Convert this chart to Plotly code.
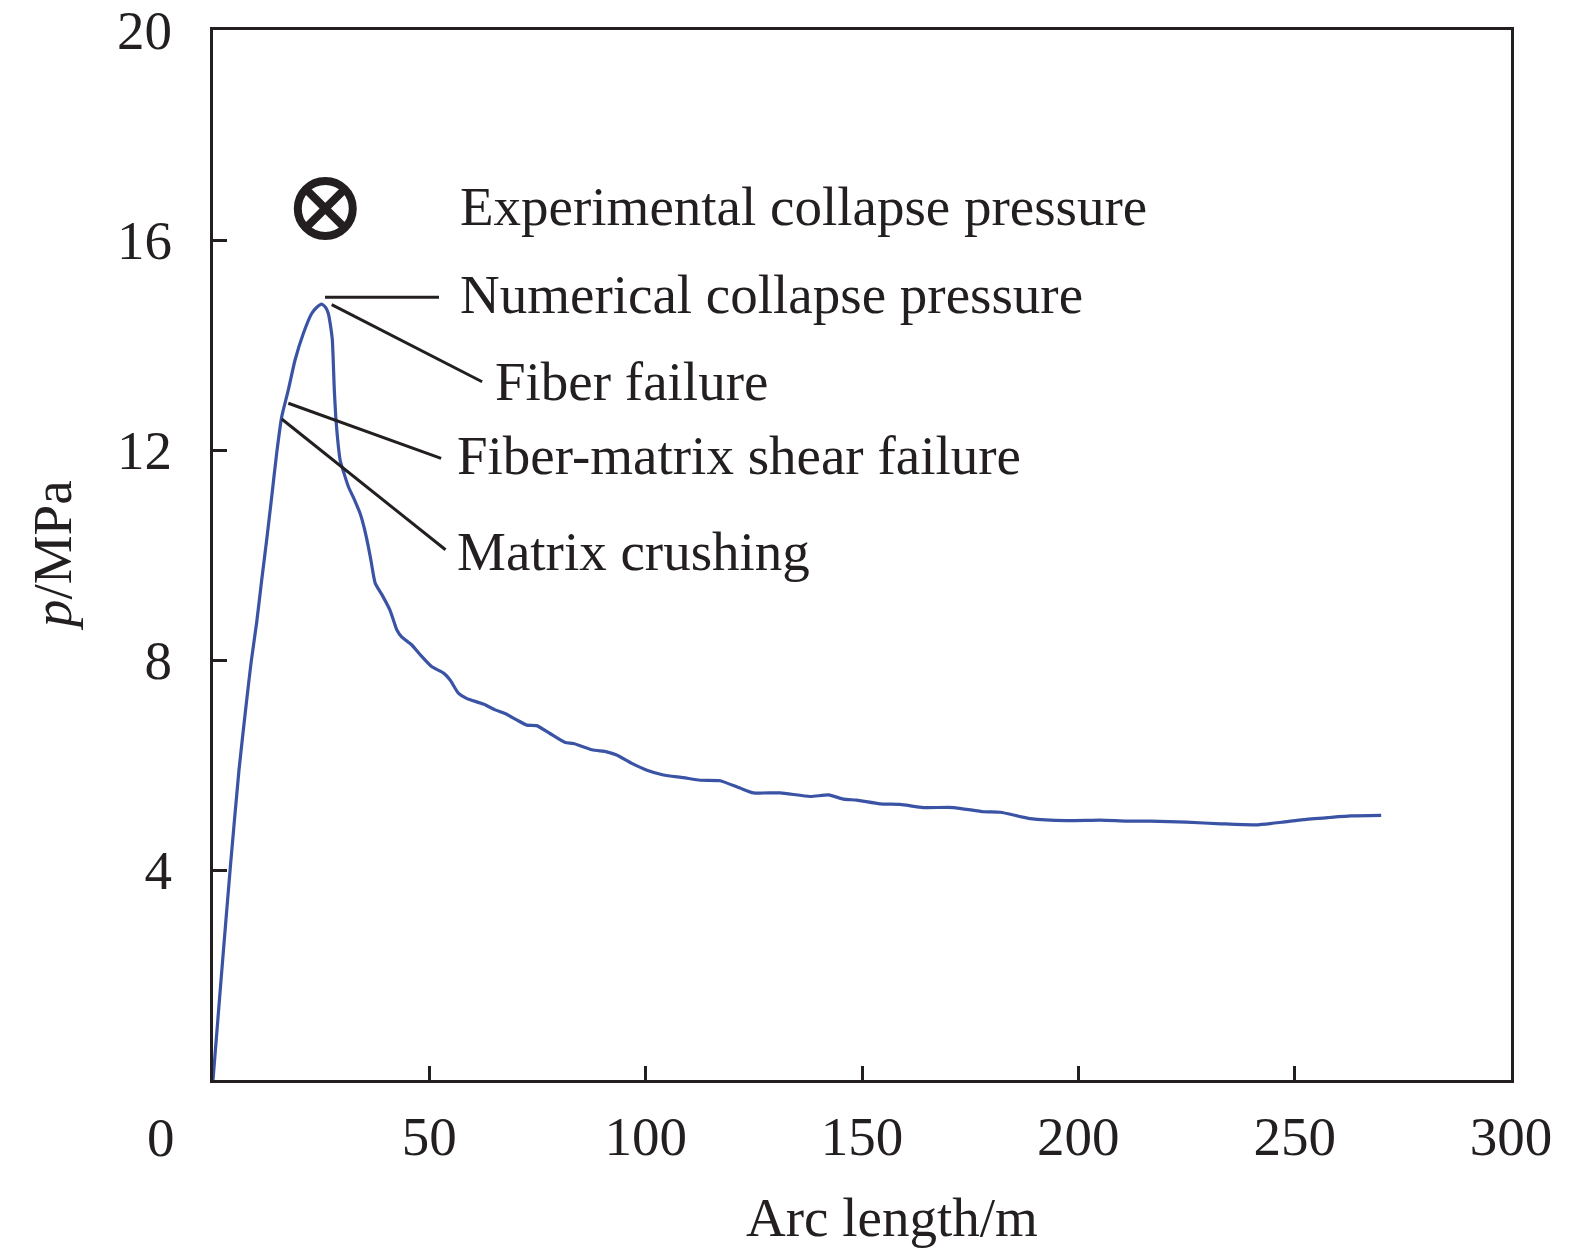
import plotly.graph_objects as go

# ---- data ----
arc_length = [0, 2.0, 4.0, 6.0, 7.6, 8.8, 10.1, 11.25, 12.41, 13.57, 14.72, 15.88, 17.4, 18.95,
              20.88, 22.81, 24.0, 25.1, 26.0, 26.65, 27.2, 27.58, 28.04, 28.4,
              28.7, 29.0, 29.4, 30.3, 31.3, 32.7, 34.0, 35.0, 35.9, 36.5, 37.5, 39.0, 40.9, 42.5,
              43.6, 45.9, 47.9, 50.6, 53.3, 54.8, 56.7, 58.6, 62.5, 65.2, 67.5, 70.2, 72.5, 74.8,
              77.9, 81.4, 83.3, 87.6, 91.0, 93.3, 96.8, 100.3, 104.1, 108.7, 112.6, 117.2, 121.8,
              124.9, 131.1, 138.0, 142.3, 145.7, 148.8, 154.2, 158.8, 164.2, 171.2, 178.1, 182.0,
              188.9, 197.4, 205.1, 211.3, 216.6, 225.0, 233.0, 241.0, 247.0, 252.0, 258.0, 263.0, 270.0]
pressure = [0, 2.05, 4.05, 5.9, 7.1, 7.95, 8.72, 9.52, 10.29, 11.11, 11.94, 12.63, 13.14, 13.71,
            14.22, 14.60, 14.72, 14.78, 14.72, 14.60, 14.35, 14.10, 13.14, 12.6,
            12.3, 12.05, 11.8, 11.55, 11.3, 11.05, 10.79, 10.5, 10.16, 9.9, 9.46, 9.25, 8.95, 8.57,
            8.44, 8.29, 8.10, 7.87, 7.75, 7.62, 7.37, 7.27, 7.16, 7.05, 6.98, 6.86, 6.76, 6.75,
            6.6, 6.43, 6.41, 6.29, 6.25, 6.19, 6.03, 5.90, 5.81, 5.76, 5.71, 5.70, 5.56,
            5.47, 5.47, 5.40, 5.43, 5.35, 5.33, 5.26, 5.25, 5.19, 5.19, 5.11, 5.10,
            4.98, 4.94, 4.95, 4.93, 4.93, 4.91, 4.88, 4.86, 4.91, 4.96, 5.0, 5.03, 5.04]

exp_x = [25.95]
exp_y = [16.6]

x_ticks = [50, 100, 150, 200, 250, 300]
y_ticks = [4, 8, 12, 16, 20]

label_texts = ["Experimental collapse pressure", "Numerical collapse pressure", "Fiber failure",
               "Fiber-matrix shear failure", "Matrix crushing"]
label_x = [56.6, 56.6, 64.6, 56.0, 56.0]
label_y = [16.63, 14.97, 13.30, 11.89, 10.06]

# leader lines: (x0, y0, x1, y1)
leaders = [
    (25.89, 14.91, 52.23, 14.91),
    (27.43, 14.77, 62.2, 13.30),
    (17.40, 12.89, 52.72, 11.84),
    (15.88, 12.59, 53.74, 10.10),
]

FONT = "Liberation Serif, Times New Roman, serif"
INK = "#231f20"
FS = 55

fig = go.Figure()
fig.add_trace(go.Scatter(x=arc_length, y=pressure, mode="lines",
                         line=dict(color="#3a53a4", width=3.2, shape="spline", smoothing=0.5),
                         showlegend=False))
fig.add_trace(go.Scatter(x=exp_x, y=exp_y, mode="markers",
                         marker=dict(symbol="circle-x-open", size=55, color=INK,
                                     line=dict(color=INK, width=8)), showlegend=False))

for (x0, y0, x1, y1) in leaders:
    fig.add_shape(type="line", x0=x0, y0=y0, x1=x1, y1=y1, xref="x", yref="y",
                  line=dict(color=INK, width=3))

for t, lx, ly in zip(label_texts, label_x, label_y):
    fig.add_annotation(x=lx, y=ly, text=t, xref="x", yref="y", showarrow=False,
                       xanchor="left", yanchor="middle", font=dict(family=FONT, size=FS, color=INK))

# axis titles and shared origin label
fig.add_annotation(x=-0.124, y=0.499, xref="paper", yref="paper", text="<i>p</i>/MPa",
                   textangle=-90, showarrow=False, xanchor="center", yanchor="middle",
                   font=dict(family=FONT, size=FS, color=INK))
fig.add_annotation(x=0.523, y=-0.131, xref="paper", yref="paper", text="Arc length/m",
                   showarrow=False, xanchor="center", yanchor="middle",
                   font=dict(family=FONT, size=FS, color=INK))
fig.add_annotation(x=-0.0403, y=-0.0552, xref="paper", yref="paper", text="0",
                   showarrow=False, xanchor="center", yanchor="middle",
                   font=dict(family=FONT, size=FS, color=INK))

axis_common = dict(showgrid=False, zeroline=False, showline=True, linecolor=INK, linewidth=3,
                   mirror=True, ticks="inside", ticklen=14, tickwidth=3, tickcolor=INK,
                   automargin=False, ticklabeloverflow="allow",
                   tickfont=dict(family=FONT, size=FS, color=INK))

fig.update_xaxes(range=[0, 300], tickvals=x_ticks, ticktext=[str(v) for v in x_ticks],
                 ticklabelstandoff=6, **axis_common)
fig.update_yaxes(range=[0, 20], tickvals=y_ticks, ticktext=[str(v) for v in y_ticks],
                 ticklabelstandoff=27, **axis_common)

fig.update_layout(width=1575, height=1252, margin=dict(l=205, r=72, t=22, b=180),
                  paper_bgcolor="white", plot_bgcolor="white")

fig.write_html("out.html")
